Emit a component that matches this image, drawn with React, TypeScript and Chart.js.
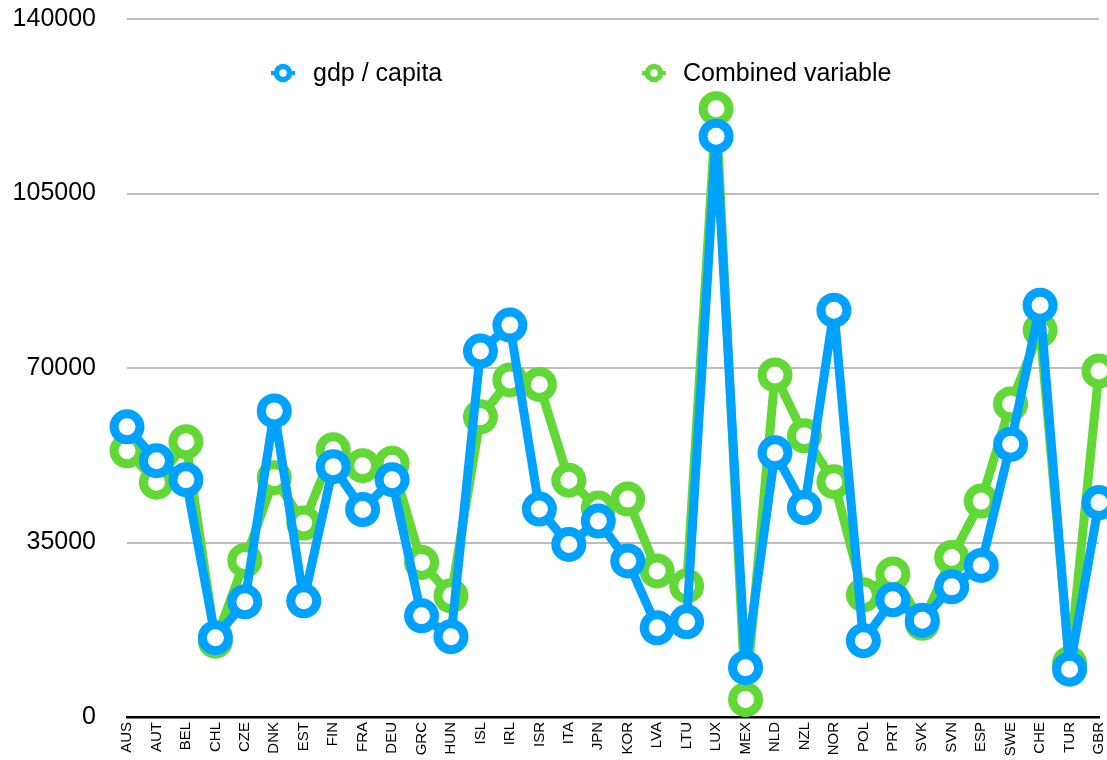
import React, { useEffect, useRef } from 'react';
import { Chart, registerables } from 'chart.js';

Chart.register(...registerables);

const FONT = '"Liberation Sans", Arial, Helvetica, sans-serif';

const countries = ['AUS', 'AUT', 'BEL', 'CHL', 'CZE', 'DNK', 'EST', 'FIN', 'FRA', 'DEU', 'GRC', 'HUN', 'ISL', 'IRL', 'ISR', 'ITA', 'JPN', 'KOR', 'LVA', 'LTU', 'LUX', 'MEX', 'NLD', 'NZL', 'NOR', 'POL', 'PRT', 'SVK', 'SVN', 'ESP', 'SWE', 'CHE', 'TUR', 'GBR'];

const gdpPerCapita = [58200, 51400, 47600, 15900, 23100, 61400, 23300, 50200, 41600, 47600, 20300, 16100, 73400, 78600, 41700, 34600, 39300, 31300, 17900, 19100, 116500, 9900, 53000, 42000, 81600, 15300, 23500, 19400, 26100, 30400, 54700, 82600, 9600, 43000];

const combinedVariable = [53400, 47100, 55200, 15200, 31400, 48000, 38900, 53600, 50400, 50900, 31000, 24300, 60200, 67600, 66700, 47500, 41900, 43700, 29300, 26300, 122000, 3500, 68600, 56400, 47200, 24500, 28700, 18800, 32000, 43300, 62800, 77600, 10800, 69400];

const yTicks = [0, 35000, 70000, 105000, 140000];

const BLUE = '#00A2FF';
const GREEN = '#61D836';

const legendPositions = [
  { marker: 283, text: 313 },
  { marker: 654, text: 683 },
];

const customLegend = {
  id: 'customLegend',
  afterDraw(chart: any) {
    const ctx = chart.ctx;
    const y = 73;
    ctx.save();
    chart.data.datasets.forEach((ds: any, i: number) => {
      const pos = legendPositions[i];
      if (!pos) return;
      const color = ds.borderColor;
      ctx.strokeStyle = color;
      ctx.lineWidth = 4;
      ctx.beginPath();
      ctx.moveTo(pos.marker - 12, y);
      ctx.lineTo(pos.marker + 12, y);
      ctx.stroke();
      ctx.beginPath();
      ctx.arc(pos.marker, y, 6.5, 0, Math.PI * 2);
      ctx.fillStyle = '#ffffff';
      ctx.fill();
      ctx.lineWidth = 5.5;
      ctx.stroke();
      ctx.fillStyle = '#000000';
      ctx.font = `25px ${FONT}`;
      ctx.textAlign = 'left';
      ctx.textBaseline = 'middle';
      ctx.fillText(ds.label, pos.text, y + 1);
    });
    ctx.restore();
  },
};

function makeDataset(label: string, data: number[], color: string) {
  return {
    label,
    data,
    borderColor: color,
    backgroundColor: color,
    borderWidth: 9,
    borderJoinStyle: 'round' as const,
    borderCapStyle: 'round' as const,
    pointRadius: 13,
    pointHoverRadius: 13,
    pointBorderWidth: 9,
    pointBackgroundColor: '#ffffff',
    pointBorderColor: color,
    tension: 0,
    clip: false as any,
  };
}

export default function App() {
  const canvasRef = useRef<HTMLCanvasElement | null>(null);

  useEffect(() => {
    if (!canvasRef.current) return;
    const chart = new Chart(canvasRef.current, {
      type: 'line',
      data: {
        labels: countries,
        datasets: [
          makeDataset('gdp / capita', gdpPerCapita, BLUE),
          makeDataset('Combined variable', combinedVariable, GREEN),
        ],
      },
      options: {
        responsive: false,
        maintainAspectRatio: false,
        animation: false,
        events: [],
        layout: { autoPadding: false, padding: { top: 19, right: 8, left: 0, bottom: 0 } },
        plugins: {
          legend: { display: false },
          title: { display: false },
          tooltip: { enabled: false },
        },
        scales: {
          x: {
            offset: false,
            grid: { display: false, drawTicks: false },
            border: { display: true, color: '#000000', width: 2.5 },
            ticks: {
              color: '#000000',
              font: { family: FONT, size: 15 },
              maxRotation: 90,
              minRotation: 90,
              autoSkip: false,
              padding: 5,
            },
            afterFit: (scale: any) => {
              scale.height = 43;
              scale.paddingLeft = 0;
              scale.paddingRight = 0;
              scale.paddingTop = 0;
              scale.paddingBottom = 0;
            },
          },
          y: {
            min: 0,
            max: 140000,
            afterBuildTicks: (scale: any) => {
              scale.ticks = yTicks.map((v) => ({ value: v }));
            },
            grid: {
              drawTicks: false,
              lineWidth: 2,
              color: (c: any) => (c.tick && c.tick.value === 0 ? 'rgba(0,0,0,0)' : '#BDBDBD'),
            },
            border: { display: false },
            ticks: {
              color: '#000000',
              font: { family: FONT, size: 25 },
              padding: 31,
              callback: (v: any) => String(v),
            },
            afterFit: (scale: any) => {
              scale.width = 127;
              scale.paddingTop = 0;
              scale.paddingBottom = 0;
              scale.paddingLeft = 0;
              scale.paddingRight = 0;
            },
          },
        },
      },
      plugins: [customLegend],
    });
    return () => chart.destroy();
  }, []);

  return (
    <div style={{ position: 'fixed', left: 0, top: 0, width: 1107, height: 760, background: '#ffffff' }}>
      <canvas ref={canvasRef} width={1107} height={760} style={{ width: 1107, height: 760, display: 'block' }} />
    </div>
  );
}
